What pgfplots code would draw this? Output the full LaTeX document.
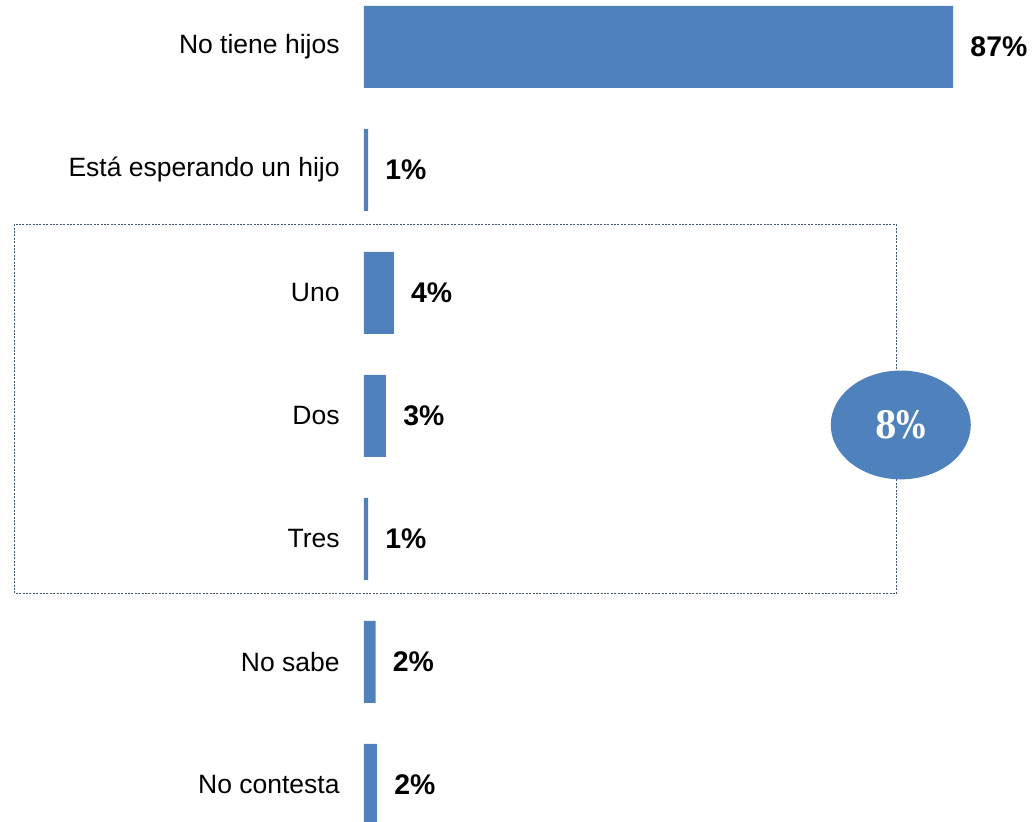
\documentclass[border=0pt]{standalone}
\usepackage{fontspec}
\setmainfont{Liberation Sans}
\newfontfamily\serifb{DejaVu Serif}
\usepackage{graphicx}
\usepackage{pgfplots}
\usepackage{pgfplotstable}
\pgfplotsset{compat=1.18}
\definecolor{barblue}{HTML}{4F81BD}
\definecolor{boxline}{HTML}{44546A}
\pgfplotstableread{
x y lab
87 0 87
0.6 1 1
4.4 2 4
3.25 3 3
0.6 4 1
1.7 5 2
1.9 6 2
}\data
\begin{document}
\begin{tikzpicture}
\useasboundingbox (-182pt,0pt) rectangle (335.5pt,411pt);
\begin{axis}[
 at={(0,0)}, anchor=south west,
 scale only axis, width=335.5pt, height=411pt,
 xmin=0, xmax=99.1, ymin=-0.382, ymax=6.301, y dir=reverse,
 xbar, bar width=41pt, bar shift=0pt,
 clip=false,
 axis line style={draw=none}, tick style={draw=none},
 major tick length=0pt,
 xtick=\empty,
 ytick={0,1,2,3,4,5,6},
 yticklabels={No tiene hijos, Está esperando un hijo, Uno, Dos, Tres, No sabe, No contesta},
 yticklabel style={font=\fontsize{13.25}{15}\selectfont, anchor=east, inner sep=0pt, xshift=-12pt},
 point meta=explicit symbolic,
 nodes near coords={\pgfplotspointmeta\%},
 nodes near coords style={font=\bfseries\fontsize{14.2}{16}\selectfont, anchor=west, inner sep=0pt, xshift=8.5pt},
]
\addplot[fill=barblue, draw=none] table[x=x, y=y, meta=lab] {\data};
\draw[boxline, line width=0.5pt, dash pattern=on 1pt off 0.7pt] (axis cs:-51.55,1.441) rectangle (axis cs:78.58,4.447);
\fill[barblue] (axis cs:79.28,3.073) ellipse [x radius=35pt, y radius=27.2pt];
\node[text=white, font=\serifb\bfseries\fontsize{15.5}{18}\selectfont] at (axis cs:79.28,3.073) {\scalebox{1}[1.22]{8\%}};
\end{axis}
\end{tikzpicture}
\end{document}
